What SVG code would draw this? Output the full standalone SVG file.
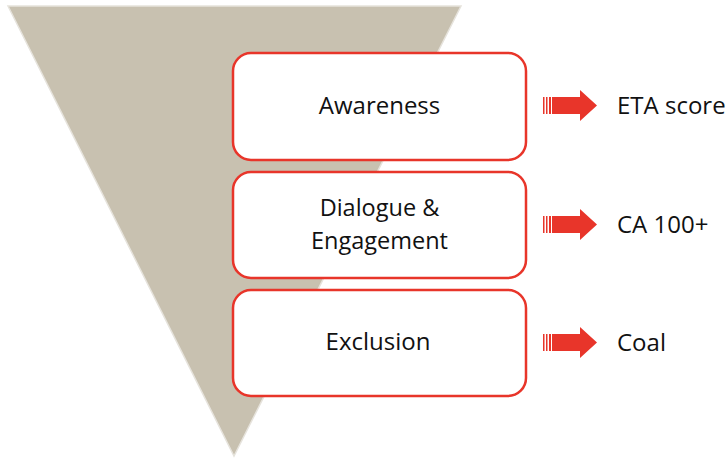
<svg xmlns="http://www.w3.org/2000/svg" width="728" height="459" viewBox="0 0 728 459">
<style>
.box{fill:#fff;stroke:#e8352a;stroke-width:2.5}
.t{font-family:"Open Sans","Liberation Sans",sans-serif;font-size:24px;fill:#111}
.t2{font-size:23.5px}
.arr{fill:#e8352a}
</style>
<defs>
<g id="arrow">
<rect class="arr" x="543" y="0" width="1.5" height="17"/>
<rect class="arr" x="546" y="0" width="1.5" height="17"/>
<rect class="arr" x="549" y="0" width="2" height="17"/>
<polygon class="arr" points="552,0 580,0 580,-7 597,8.5 580,24 580,17 552,17"/>
</g>
</defs>
<rect width="728" height="459" fill="#fff"/>
<g id="funnel">
<polygon points="8,6 461,6 234,456" fill="#c8c1b0" stroke="#e6e3dc" stroke-width="1.5"/>
</g>
<g id="awareness">
<rect class="box" x="233" y="53" width="293" height="107" rx="18"/>
<text class="t" x="379.5" y="114" text-anchor="middle">Awareness</text>
</g>
<g id="dialogue">
<rect class="box" x="233" y="172" width="293" height="106" rx="18"/>
<text class="t t2" x="379.5" y="216" text-anchor="middle">Dialogue &amp;</text>
<text class="t t2" x="379.5" y="248.5" text-anchor="middle">Engagement</text>
</g>
<g id="exclusion">
<rect class="box" x="233" y="290" width="293" height="106" rx="18"/>
<text class="t" x="378" y="350" text-anchor="middle">Exclusion</text>
</g>
<g id="connectors">
<use href="#arrow" y="97"/>
<use href="#arrow" y="216"/>
<use href="#arrow" y="334"/>
</g>
<g id="eta"><text class="t" x="617" y="114">ETA score</text></g>
<g id="ca"><text class="t" x="617" y="233">CA 100+</text></g>
<g id="coal"><text class="t" x="617" y="351">Coal</text></g>
</svg>
